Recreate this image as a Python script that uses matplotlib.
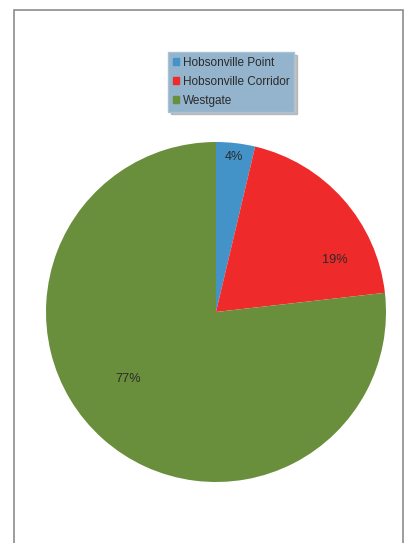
"""Pie chart of share by area: Hobsonville Point, Corridor and Westgate."""

import matplotlib

matplotlib.use("Agg")
import matplotlib.pyplot as plt
import numpy as np
from matplotlib.patches import Rectangle

AREAS = ["Hobsonville Point", "Hobsonville Corridor", "Westgate"]
SHARES = [3.7, 19.5, 76.8]
LABELS = ["4%", "19%", "77%"]

COLOURS = ["#4393C8", "#EE2A2A", "#6A8F3C"]
TEXT = "#2A2A2A"
W, H = 405, 543

plt.rcParams["font.family"] = ["Liberation Sans", "DejaVu Sans"]

figure = plt.figure(figsize=(W / 100, H / 100), dpi=100)
figure.patch.set_facecolor("white")

# chart frame
figure.patches.append(Rectangle((14 / W, -0.05), (403 - 14) / W, (H - 10) / H + 0.05,
                                transform=figure.transFigure, fill=False,
                                edgecolor="#8C8C8C", linewidth=1.2))

cx, cy, r = 216, 312, 170
axis = figure.add_axes([(cx - r) / W, (H - cy - r) / H, 2 * r / W, 2 * r / H])
wedges, _ = axis.pie(SHARES, colors=COLOURS, startangle=90, counterclock=False,
                     radius=1.0, wedgeprops={"linewidth": 0})
axis.set_xlim(-1, 1)
axis.set_ylim(-1, 1)
axis.set_aspect("equal")
axis.axis("off")

# label placement (angle offset in degrees from wedge middle, radial distance)
placement = [(0.0, 0.92), (-18.0, 0.76), (-11.0, 0.65)]
start = 90.0
for share, label, (offset, dist) in zip(SHARES, LABELS, placement):
    mid = start - share * 3.6 / 2 + offset
    start -= share * 3.6
    axis.text(dist * np.cos(np.radians(mid)), dist * np.sin(np.radians(mid)), label,
              ha="center", va="center", fontsize=9.2, color=TEXT)

handles = [Rectangle((0, 0), 1, 1, color=c) for c in COLOURS]
legend = figure.legend(handles, AREAS, loc="upper left",
                       bbox_to_anchor=(168 / W, 1 - 52 / H), fontsize=8.5,
                       frameon=True, fancybox=False, shadow={"color": "#9a9a9a", "alpha": 0.6},
                       facecolor="#93B4CC", edgecolor="#A9C2D4", framealpha=1,
                       handlelength=0.55, handleheight=0.55, handletextpad=0.3,
                       labelspacing=0.6, borderpad=0.4, borderaxespad=0)
for text in legend.get_texts():
    text.set_color(TEXT)

figure.savefig("out.png", dpi=100, facecolor="white")
